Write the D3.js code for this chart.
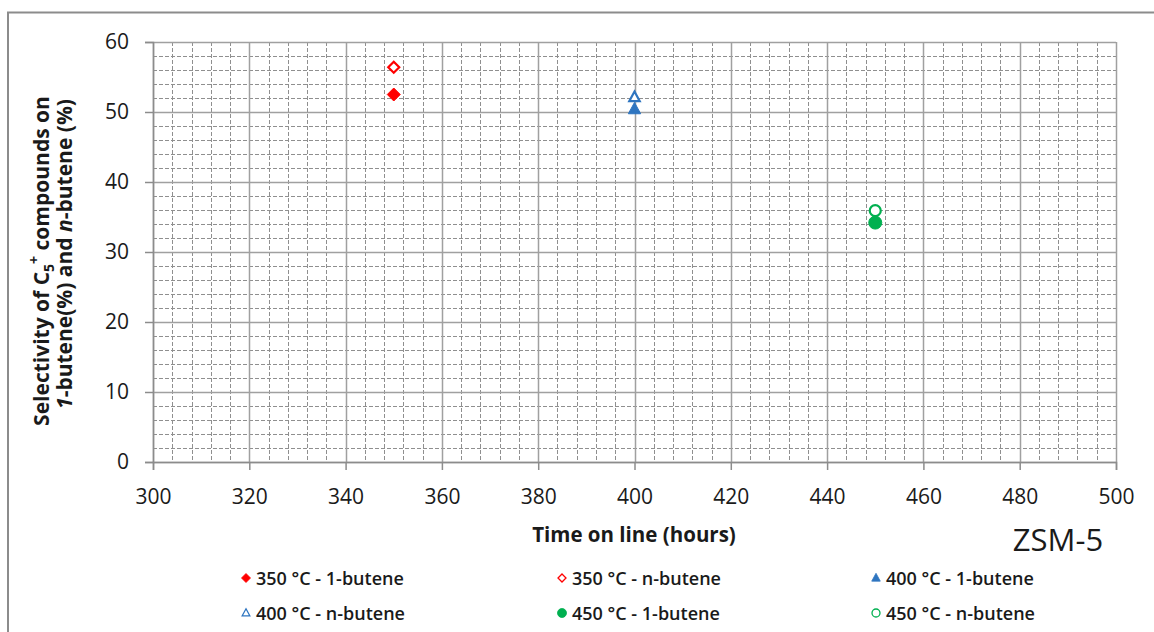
<!DOCTYPE html>
<html>
<head>
<meta charset="utf-8">
<script src="https://cdn.jsdelivr.net/npm/d3@7"></script>
<style>
  html, body { margin: 0; padding: 0; background: #fff; }
  svg { display: block; }
  text { font-family: "Open Sans", Lato, "Liberation Sans", sans-serif; fill: #1a1a1a; }
</style>
</head>
<body>
<svg id="chart" width="1154" height="632"></svg>
<script>
// Reaction temperatures and feeds
const seriesNames = ["350 °C - 1-butene", "350 °C - n-butene", "400 °C - 1-butene",
                     "400 °C - n-butene", "450 °C - 1-butene", "450 °C - n-butene"];
const seriesTime = [350, 350, 400, 400, 450, 450];              // time on line (hours)
const seriesSelectivity = [52.5, 56.4, 50.4, 52.1, 34.2, 35.9]; // C5+ selectivity (%)
const seriesShape = ["diamond", "diamond", "triangle", "triangle", "circle", "circle"];
const seriesFilled = [true, false, true, false, true, false];
const seriesColor = ["#ff0000", "#ff0000", "#2e75c0", "#2e75c0", "#00b050", "#00b050"];

const xTicks = [300, 320, 340, 360, 380, 400, 420, 440, 460, 480, 500];
const yTicks = [0, 10, 20, 30, 40, 50, 60];

const svg = d3.select("#chart");
const W = 1154, H = 632;
const plot = { left: 153, right: 1116, top: 42, bottom: 462 };

// outer chart frame
svg.append("path")
  .attr("d", `M8,${H} V12.5 H${W}`)
  .attr("fill", "none").attr("stroke", "#8c8c8c").attr("stroke-width", 2);

const x = d3.scaleLinear().domain([300, 500]).range([plot.left, plot.right]);
const y = d3.scaleLinear().domain([0, 60]).range([plot.bottom, plot.top]);

// minor gridlines (dashed)
const g = svg.append("g");
g.selectAll(".xminor").data(d3.range(300, 501, 4).filter(v => v % 20 !== 0))
  .join("line")
  .attr("x1", d => Math.round(x(d)) + 0.5).attr("x2", d => Math.round(x(d)) + 0.5)
  .attr("y1", plot.top).attr("y2", plot.bottom)
  .attr("stroke", "#8f8f8f").attr("stroke-width", 1).attr("stroke-dasharray", "4,2");
g.selectAll(".yminor").data(d3.range(0, 61, 2).filter(v => v % 10 !== 0))
  .join("line")
  .attr("y1", d => Math.round(y(d)) + 0.5).attr("y2", d => Math.round(y(d)) + 0.5)
  .attr("x1", plot.left).attr("x2", plot.right)
  .attr("stroke", "#8f8f8f").attr("stroke-width", 1).attr("stroke-dasharray", "4,2");

// major gridlines (solid)
g.selectAll(".xmajor").data(xTicks).join("line")
  .attr("x1", d => Math.round(x(d)) + 0.5).attr("x2", d => Math.round(x(d)) + 0.5)
  .attr("y1", plot.top).attr("y2", plot.bottom)
  .attr("stroke", "#a0a0a0").attr("stroke-width", 1.5);
g.selectAll(".ymajor").data(yTicks).join("line")
  .attr("y1", d => Math.round(y(d)) + 0.5).attr("y2", d => Math.round(y(d)) + 0.5)
  .attr("x1", plot.left).attr("x2", plot.right)
  .attr("stroke", "#a0a0a0").attr("stroke-width", 1.5);

// axes
const xAxis = svg.append("g").attr("transform", `translate(0,${plot.bottom})`)
  .call(d3.axisBottom(x).tickValues(xTicks).tickSize(8).tickPadding(19).tickFormat(d3.format("d")));
const yAxis = svg.append("g").attr("transform", `translate(${plot.left},0)`)
  .call(d3.axisLeft(y).tickValues(yTicks).tickSize(8).tickPadding(16).tickFormat(d3.format("d")));
[xAxis, yAxis].forEach(ax => {
  ax.select(".domain").attr("stroke", "#8c8c8c").attr("stroke-width", 1.5);
  ax.selectAll(".tick line").attr("stroke", "#8c8c8c").attr("stroke-width", 1.5);
  ax.selectAll(".tick text").attr("font-family", "'Open Sans', sans-serif")
    .attr("font-size", 21).attr("fill", "#1a1a1a");
});

// marker path builder
function markerPath(shape, size) {
  const s = size;
  if (shape === "diamond") return `M0,${-s}L${s},0L0,${s}L${-s},0Z`;
  if (shape === "triangle") return `M0,${-s * 1.05}L${s * 0.95},${s * 0.7}L${-s * 0.95},${s * 0.7}Z`;
  return d3.arc()({ innerRadius: 0, outerRadius: s, startAngle: 0, endAngle: 2 * Math.PI });
}

const data = seriesNames.map((name, i) => ({
  name, t: seriesTime[i], v: seriesSelectivity[i],
  shape: seriesShape[i], filled: seriesFilled[i], color: seriesColor[i]
}));

// points
svg.append("g").selectAll("path").data(data).join("path")
  .attr("transform", d => `translate(${x(d.t)},${y(d.v)})`)
  .attr("d", d => markerPath(d.shape, d.filled ? 6.5 : 5.5))
  .attr("fill", d => d.filled ? d.color : "#fff")
  .attr("stroke", d => d.color)
  .attr("stroke-width", d => d.filled ? 1 : 2.2);

// axis titles
svg.append("text")
  .attr("x", 634).attr("y", 542)
  .attr("text-anchor", "middle").attr("font-size", 20.5).attr("font-weight", "bold")
  .text("Time on line (hours)");

svg.append("text")
  .attr("x", 1058).attr("y", 551)
  .attr("text-anchor", "middle").attr("font-size", 31)
  .text("ZSM-5");

const yTitle = svg.append("g").attr("transform", "rotate(-90)");
const l1 = yTitle.append("text").attr("x", -261).attr("y", 49)
  .attr("text-anchor", "middle").attr("font-size", 21).attr("font-weight", "bold");
l1.append("tspan").text("Selectivity of C");
l1.append("tspan").attr("font-size", 14).attr("dy", 5).text("5");
l1.append("tspan").attr("font-size", 14).attr("dy", -15).text("+");
l1.append("tspan").attr("dy", 10).text(" compounds on");
const l2 = yTitle.append("text").attr("x", -254).attr("y", 72)
  .attr("text-anchor", "middle").attr("font-size", 21).attr("font-weight", "bold");
l2.append("tspan").attr("font-style", "italic").text("1");
l2.append("tspan").text("-butene(%)  and ");
l2.append("tspan").attr("font-style", "italic").text("n");
l2.append("tspan").text("-butene (%)");

// legend
const legendX = [246, 562, 876];
const legendY = [578, 613];
const legend = svg.append("g").selectAll("g").data(data).join("g")
  .attr("transform", (d, i) => `translate(${legendX[i % 3]},${legendY[Math.floor(i / 3)]})`);
legend.append("path")
  .attr("d", d => markerPath(d.shape, d.filled ? 4.5 : 4))
  .attr("fill", d => d.filled ? d.color : "#fff")
  .attr("stroke", d => d.color)
  .attr("stroke-width", d => d.filled ? 0.8 : 1.3);
legend.append("text")
  .attr("x", 10).attr("y", 6.5)
  .attr("font-family", "'Open Sans', sans-serif")
  .attr("font-size", 18).attr("font-weight", 600)
  .text(d => d.name);
</script>
</body>
</html>
